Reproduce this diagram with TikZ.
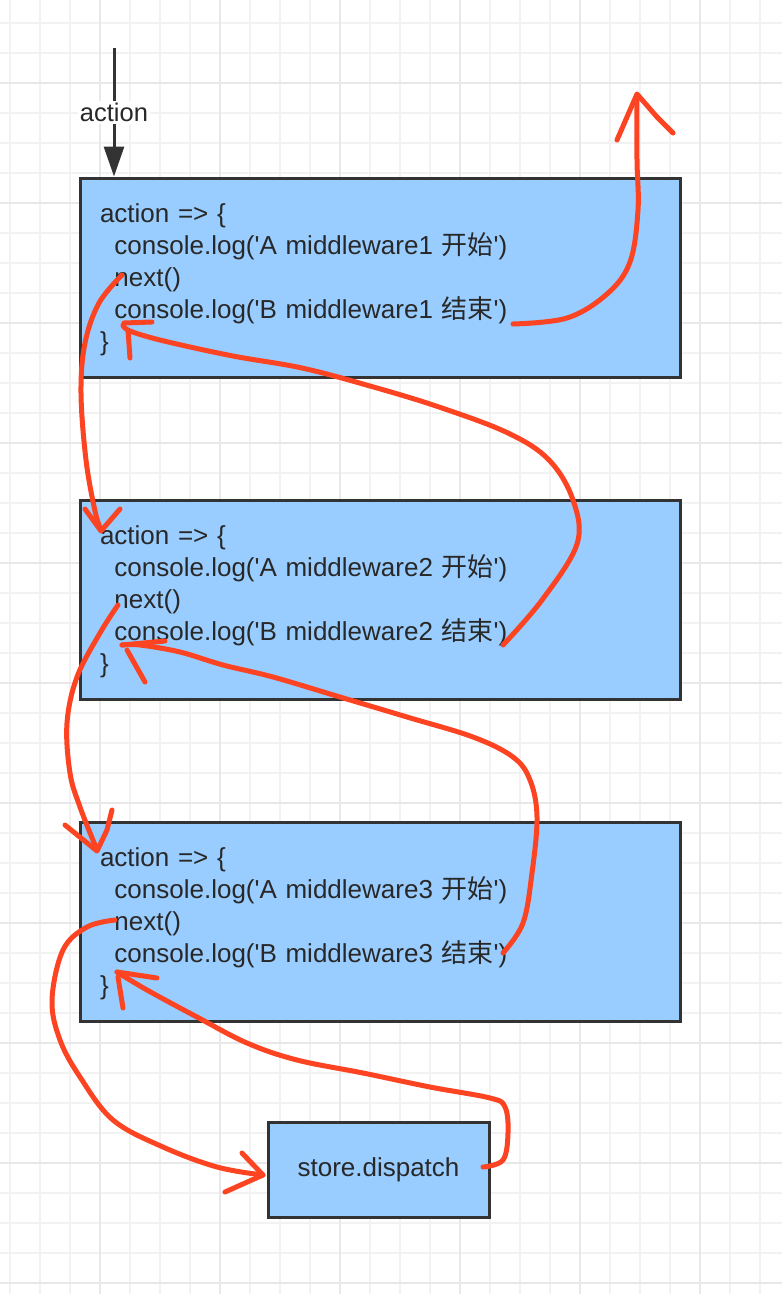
\documentclass[tikz,border=0pt]{standalone}
\usepackage{fontspec}
\newfontfamily\lsans{Liberation Sans}
\newfontfamily\cjk{Noto Sans CJK SC}
\usetikzlibrary{arrows.meta}
\definecolor{boxfill}{RGB}{153,204,255}
\definecolor{boxline}{RGB}{51,51,51}
\definecolor{textcol}{RGB}{40,40,40}
\definecolor{ink}{RGB}{252,68,34}
\definecolor{gridminor}{RGB}{242,242,242}
\definecolor{gridmajor}{RGB}{232,232,232}
\begin{document}
\begin{tikzpicture}[x=1pt,y=-1pt,
  gminor/.style={draw=gridminor,line width=1.3pt},
  gmajor/.style={draw=gridmajor,line width=1.6pt},
  codebox/.style={draw=boxline,line width=3pt,fill=boxfill,minimum width=600pt,minimum height=199pt,
    text width=560pt,inner xsep=20pt,inner ysep=0pt,align=left,text=textcol,
    font=\lsans\fontsize{26}{32}\selectfont},
  plainbox/.style={draw=boxline,line width=3pt,fill=boxfill,minimum width=221pt,minimum height=95pt,
    text=textcol,font=\lsans\fontsize{26}{32}\selectfont},
  blackarrow/.style={draw=boxline,line width=3pt,-{Triangle[width=20pt,length=30pt]}},
  redpen/.style={draw=ink,line width=5pt,line cap=round,line join=round}]
\useasboundingbox (0,0) rectangle (782,1294);
\fill[white] (0,0) rectangle (782,1294);
% grid
\foreach \i in {0,...,26} {\draw[gminor] (10+30*\i,0) -- (10+30*\i,1294);}
\foreach \j in {0,...,42} {\draw[gminor] (0,23+30*\j) -- (782,23+30*\j);}
\foreach \i in {3,7,...,23} {\draw[gmajor] (10+30*\i,0) -- (10+30*\i,1294);}
\foreach \j in {2,6,...,42} {\draw[gmajor] (0,23+30*\j) -- (782,23+30*\j);}
% boxes
\node[codebox] (m1) at (380,277.5) {\rule{0pt}{23pt}action => \{\\
\hspace*{0.556em}console.log('A middleware1 {\cjk 开始}')\\
\hspace*{0.556em}next()\\
\hspace*{0.556em}console.log('B middleware1 {\cjk 结束}')\\
\}};
\node[codebox] (m2) at (380,599.5) {\rule{0pt}{23pt}action => \{\\
\hspace*{0.556em}console.log('A middleware2 {\cjk 开始}')\\
\hspace*{0.556em}next()\\
\hspace*{0.556em}console.log('B middleware2 {\cjk 结束}')\\
\}};
\node[codebox] (m3) at (380,921.5) {\rule{0pt}{23pt}action => \{\\
\hspace*{0.556em}console.log('A middleware3 {\cjk 开始}')\\
\hspace*{0.556em}next()\\
\hspace*{0.556em}console.log('B middleware3 {\cjk 结束}')\\
\}};
\node[plainbox] (sd) at (378.5,1169.5) {store.dispatch};
% incoming action arrow
\coordinate (astart) at (114,48);
\draw[blackarrow] (astart) -- (astart |- m1.north)
  node[pos=0.5,fill=white,inner sep=2pt,text=textcol,font=\lsans\fontsize{25.5}{32}\selectfont] (alabel) {action};
% red hand-drawn arrows
% 1: out of middleware1
\draw[redpen] plot[smooth,tension=0.6] coordinates {(513,324) (567,318) (607,294) (630,262) (638,210) (637,160) (637,95)};
\draw[redpen] (617,140) -- (637,94) -- (657,117) -- (673,133);
% 2: next() of m1 -> m2
\draw[redpen] plot[smooth,tension=0.6] coordinates {(122,275) (99,303) (85,343) (81,393) (86,460) (95,511) (101,530)};
\draw[redpen] (85,509) -- (101,531) -- (120,509);
% 3: end of m2 -> back to m1
\draw[redpen] plot[smooth,tension=0.6] coordinates {(503,645) (542,600) (577,544) (573,500) (549,460) (508,433) (439,407) (370,386) (302,368) (233,356) (164,341) (130,331) (123,325)};
\draw[redpen] (152,322) -- (124,323);
\draw[redpen] (128,330) -- (130,358);
% 4: next() of m2 -> m3
\draw[redpen] plot[smooth,tension=0.6] coordinates {(118,605) (100,633) (77,677) (67,723) (70,773) (80,807) (97,850)};
\draw[redpen] (65,825) -- (97,851) -- (107,830) -- (112,810);
% 5: end of m3 -> back to m2
\draw[redpen] plot[smooth,tension=0.6] coordinates {(503,953) (523,923) (532,873) (537,817) (530,780) (513,757) (473,737) (407,717) (340,697) (273,677) (223,665) (180,652) (140,645) (122,645)};
\draw[redpen] (165,641) -- (122,645);
\draw[redpen] (127,650) -- (145,682);
% 6: next() of m3 -> store.dispatch
\draw[redpen] plot[smooth,tension=0.6] coordinates {(115,920) (87,927) (63,950) (52,1000) (60,1040) (80,1077) (113,1120) (163,1147) (217,1167) (263,1175)};
\draw[redpen] (242,1153) -- (263,1175) -- (225,1192);
% 7: store.dispatch -> back to m3
\draw[redpen] plot[smooth,tension=0.6] coordinates {(483,1167) (503,1160) (508,1133) (505,1107) (490,1098) (430,1087) (363,1073) (297,1060) (247,1043) (197,1017) (147,990) (117,972)};
\draw[redpen] (157,978) -- (117,972);
\draw[redpen] (118,977) -- (123,1008);
\end{tikzpicture}
\end{document}
